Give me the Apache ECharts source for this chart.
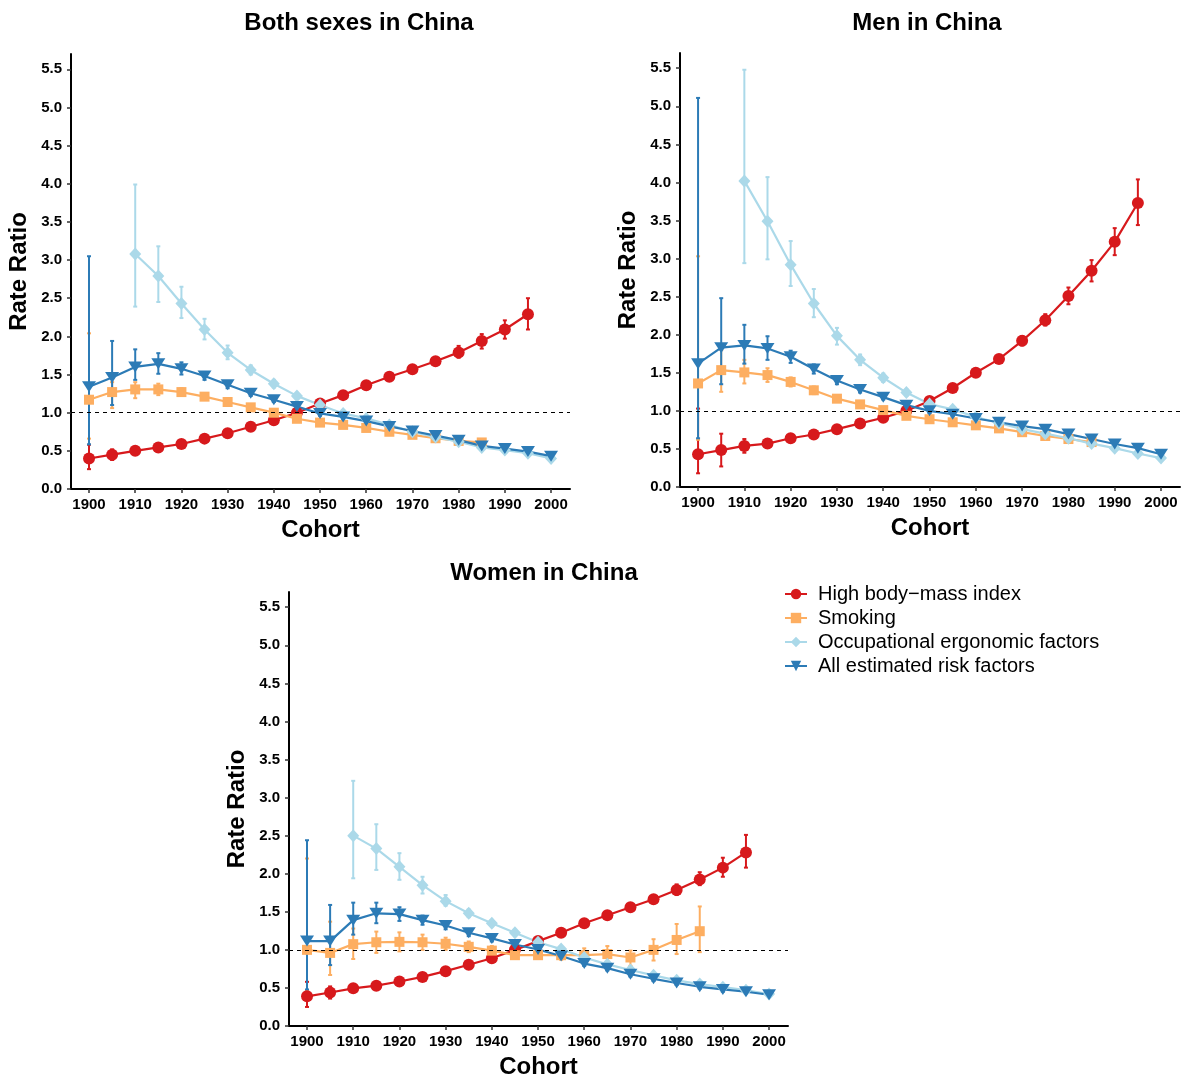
<!DOCTYPE html>
<html>
<head>
<meta charset="utf-8">
<script src="https://cdn.jsdelivr.net/npm/echarts@6/dist/echarts.min.js"></script>
<style>html,body{margin:0;padding:0;background:#fff}#c{width:1184px;height:1078px}</style>
</head>
<body>
<div id="c"></div>
<script>
// ---------- DATA ----------
const cohorts = [1900,1905,1910,1915,1920,1925,1930,1935,1940,1945,1950,1955,1960,1965,1970,1975,1980,1985,1990,1995,2000];
const yTicks = [0,0.5,1,1.5,2,2.5,3,3.5,4,4.5,5,5.5];
const xTicks = [1900,1910,1920,1930,1940,1950,1960,1970,1980,1990,2000];
const panelTitles = ['Both sexes in China','Men in China','Women in China'];
const factorNames = ['High body\u2212mass index','Smoking','Occupational ergonomic factors','All estimated risk factors'];

// Both sexes
const bothBmi    = [0.40,0.45,0.50,0.545,0.59,0.66,0.73,0.815,0.90,1.00,1.12,1.23,1.36,1.47,1.57,1.675,1.79,1.94,2.09,2.29,null];
const bothBmiLo  = [0.26,0.38,0.46,0.51,0.56,0.63,0.70,0.79,0.87,0.97,1.08,1.19,1.32,1.43,1.53,1.63,1.72,1.84,1.97,2.09,null];
const bothBmiHi  = [0.58,0.52,0.54,0.58,0.62,0.69,0.76,0.84,0.93,1.03,1.16,1.27,1.40,1.51,1.61,1.72,1.875,2.03,2.21,2.50,null];
const bothSmk    = [1.17,1.27,1.305,1.305,1.27,1.21,1.14,1.07,1.00,0.92,0.87,0.84,0.80,0.75,0.71,0.665,0.63,0.61,null,null,null];
const bothSmkLo  = [0.66,1.06,1.19,1.23,1.22,1.17,1.11,1.04,0.97,0.89,0.84,0.81,0.77,0.72,0.68,0.63,0.60,0.57,null,null,null];
const bothSmkHi  = [2.04,1.40,1.40,1.38,1.32,1.25,1.17,1.10,1.03,0.95,0.90,0.87,0.83,0.78,0.74,0.70,0.66,0.65,null,null,null];
const bothOcc    = [null,null,3.08,2.79,2.43,2.09,1.785,1.56,1.38,1.22,1.10,0.99,0.925,0.84,0.75,0.68,0.62,0.545,0.51,0.47,0.40];
const bothOccLo  = [null,null,2.39,2.45,2.24,1.96,1.70,1.50,1.33,1.18,1.06,0.95,0.89,0.81,0.72,0.65,0.59,0.51,0.48,0.44,0.37];
const bothOccHi  = [null,null,3.99,3.18,2.65,2.23,1.88,1.62,1.43,1.26,1.14,1.03,0.96,0.87,0.78,0.71,0.65,0.58,0.54,0.50,0.43];
const bothAll    = [1.34,1.46,1.60,1.64,1.575,1.48,1.365,1.255,1.17,1.08,0.99,0.945,0.89,0.82,0.76,0.70,0.64,0.565,0.53,0.49,0.43];
const bothAllLo  = [0.585,1.10,1.43,1.51,1.50,1.43,1.32,1.22,1.14,1.05,0.96,0.92,0.86,0.79,0.73,0.67,0.61,0.54,0.50,0.46,0.40];
const bothAllHi  = [3.05,1.94,1.83,1.78,1.66,1.53,1.41,1.29,1.20,1.11,1.02,0.97,0.92,0.85,0.79,0.73,0.67,0.59,0.56,0.52,0.46];

// Men
const menBmi     = [0.43,0.485,0.54,0.57,0.64,0.69,0.76,0.835,0.91,1.00,1.13,1.30,1.50,1.68,1.92,2.19,2.51,2.84,3.22,3.73,null];
const menBmiLo   = [0.18,0.27,0.45,0.52,0.60,0.66,0.73,0.80,0.88,0.97,1.10,1.26,1.46,1.64,1.86,2.12,2.40,2.70,3.045,3.44,null];
const menBmiHi   = [1.03,0.70,0.63,0.62,0.68,0.73,0.80,0.87,0.94,1.03,1.17,1.34,1.54,1.72,1.98,2.27,2.62,2.98,3.40,4.04,null];
const menSmk     = [1.36,1.535,1.505,1.47,1.38,1.27,1.16,1.085,1.01,0.935,0.89,0.85,0.81,0.77,0.72,0.67,0.63,0.59,null,null,null];
const menSmkLo   = [0.62,1.25,1.36,1.38,1.32,1.22,1.12,1.05,0.98,0.90,0.86,0.82,0.78,0.74,0.69,0.64,0.60,0.56,null,null,null];
const menSmkHi   = [3.03,1.80,1.67,1.56,1.44,1.32,1.20,1.12,1.04,0.97,0.92,0.88,0.84,0.80,0.75,0.70,0.66,0.62,null,null,null];
const menOcc     = [null,null,4.02,3.49,2.92,2.41,1.985,1.67,1.435,1.24,1.09,1.02,0.92,0.84,0.76,0.70,0.64,0.57,0.51,0.44,0.38];
const menOccLo   = [null,null,2.94,2.99,2.64,2.23,1.87,1.60,1.38,1.20,1.05,0.98,0.89,0.81,0.73,0.67,0.61,0.54,0.48,0.41,0.35];
const menOccHi   = [null,null,5.48,4.07,3.23,2.60,2.09,1.74,1.49,1.28,1.13,1.06,0.95,0.87,0.79,0.73,0.67,0.60,0.54,0.47,0.41];
const menAll     = [1.62,1.83,1.86,1.82,1.71,1.55,1.40,1.28,1.18,1.075,1.00,0.955,0.90,0.85,0.80,0.76,0.695,0.63,0.565,0.51,0.43];
const menAllLo   = [0.64,1.35,1.62,1.67,1.63,1.49,1.35,1.24,1.15,1.04,0.97,0.93,0.87,0.82,0.77,0.73,0.67,0.60,0.54,0.48,0.40];
const menAllHi   = [5.11,2.48,2.13,1.98,1.79,1.61,1.45,1.32,1.21,1.11,1.03,0.98,0.93,0.88,0.83,0.79,0.72,0.66,0.59,0.54,0.46];

// Women
const womBmi     = [0.39,0.44,0.495,0.53,0.585,0.645,0.72,0.805,0.89,1.00,1.115,1.225,1.35,1.455,1.56,1.665,1.785,1.925,2.08,2.28,null];
const womBmiLo   = [0.25,0.36,0.46,0.50,0.56,0.62,0.69,0.78,0.86,0.97,1.08,1.19,1.31,1.42,1.52,1.62,1.72,1.85,1.96,2.08,null];
const womBmiHi   = [0.58,0.52,0.53,0.56,0.61,0.67,0.75,0.83,0.92,1.03,1.15,1.26,1.39,1.49,1.60,1.71,1.86,2.02,2.21,2.51,null];
const womSmk     = [1.00,0.96,1.075,1.10,1.105,1.10,1.08,1.04,0.99,0.93,0.93,0.93,0.93,0.945,0.90,1.00,1.13,1.245,null,null,null];
const womSmkLo   = [0.47,0.67,0.88,0.96,0.98,1.00,1.00,0.97,0.93,0.88,0.88,0.87,0.86,0.845,0.79,0.86,0.945,0.97,null,null,null];
const womSmkHi   = [2.20,1.37,1.28,1.24,1.23,1.20,1.16,1.11,1.05,0.98,0.98,0.99,1.02,1.05,0.99,1.14,1.34,1.57,null,null,null];
const womOcc     = [null,null,2.50,2.33,2.09,1.85,1.64,1.48,1.35,1.225,1.10,1.01,0.90,0.81,0.735,0.665,0.60,0.55,0.51,0.47,0.42];
const womOccLo   = [null,null,1.94,2.05,1.92,1.74,1.58,1.43,1.31,1.19,1.07,0.98,0.87,0.78,0.71,0.64,0.57,0.52,0.48,0.44,0.39];
const womOccHi   = [null,null,3.22,2.65,2.27,1.96,1.72,1.53,1.39,1.26,1.13,1.04,0.93,0.84,0.76,0.69,0.63,0.58,0.54,0.50,0.45];
const womAll     = [1.115,1.115,1.39,1.48,1.47,1.39,1.32,1.225,1.15,1.07,1.005,0.92,0.82,0.76,0.68,0.62,0.565,0.515,0.48,0.45,0.41];
const womAllLo   = [0.48,0.80,1.20,1.35,1.38,1.33,1.27,1.18,1.11,1.04,0.97,0.89,0.79,0.73,0.65,0.59,0.54,0.49,0.45,0.42,0.38];
const womAllHi   = [2.44,1.59,1.62,1.62,1.56,1.45,1.37,1.27,1.19,1.10,1.04,0.95,0.85,0.79,0.71,0.65,0.59,0.54,0.51,0.48,0.44];

// ---------- STYLE / LAYOUT ----------
const FONT = "'Liberation Sans', Arial, Helvetica, sans-serif";
const colors = ['#d7191c','#fdae61','#abd9e9','#2c7bb6'];
const symbols = ['circle','rect','diamond','triangle'];
const symSizes = [12, 10, [12,13], [14,11]];
const symRot = [0,0,0,180];

const panels = [
  {grid:{left:71, top:54, width:499, height:435}, title:[359,23],
   data:[[bothBmi,bothBmiLo,bothBmiHi],[bothSmk,bothSmkLo,bothSmkHi],[bothOcc,bothOccLo,bothOccHi],[bothAll,bothAllLo,bothAllHi]]},
  {grid:{left:680, top:53, width:500, height:434}, title:[927,23],
   data:[[menBmi,menBmiLo,menBmiHi],[menSmk,menSmkLo,menSmkHi],[menOcc,menOccLo,menOccHi],[menAll,menAllLo,menAllHi]]},
  {grid:{left:289, top:592, width:499, height:434}, title:[544,573],
   data:[[womBmi,womBmiLo,womBmiHi],[womSmk,womSmkLo,womSmkHi],[womOcc,womOccLo,womOccHi],[womAll,womAllLo,womAllHi]]}
];

const grids = [], xAxes = [], yAxes = [], series = [], graphics = [];

panels.forEach((p, pi) => {
  grids.push(Object.assign({containLabel:false, outerBoundsMode:'none'}, p.grid));
  xAxes.push({
    type:'value', gridIndex:pi, min:1896.1, max:2004.1,
    name:'Cohort', nameLocation:'middle', nameGap:29,
    nameTextStyle:{fontFamily:FONT, fontSize:24, fontWeight:'bold', color:'#000'},
    axisLine:{show:true, onZero:false, lineStyle:{color:'#000', width:2}},
    axisTick:{show:true, length:4, customValues:xTicks, lineStyle:{color:'#333', width:1.5}},
    axisLabel:{show:true, customValues:xTicks, margin:8, fontFamily:FONT, fontSize:15, fontWeight:'bold', color:'#000',
               formatter: v => String(Math.round(v))},
    splitLine:{show:false}
  });
  yAxes.push({
    type:'value', gridIndex:pi, min:0, max:5.7,
    name:'Rate Ratio', nameLocation:'middle', nameGap:40, nameRotate:90,
    nameTextStyle:{fontFamily:FONT, fontSize:24, fontWeight:'bold', color:'#000'},
    axisLine:{show:true, onZero:false, lineStyle:{color:'#000', width:2}},
    axisTick:{show:true, length:4, customValues:yTicks, lineStyle:{color:'#333', width:1.5}},
    axisLabel:{show:true, customValues:yTicks, margin:9, fontFamily:FONT, fontSize:15, fontWeight:'bold', color:'#000',
               formatter: v => v.toFixed(1)},
    splitLine:{show:false}
  });
  graphics.push({type:'text', x:p.title[0], y:p.title[1],
    style:{text:panelTitles[pi], fill:'#000', font:"bold 24px " + FONT, textAlign:'center', textVerticalAlign:'middle'}});

  p.data.forEach((arrs, fi) => {
    const [vals, lo, hi] = arrs;
    const errData = [], lineData = [];
    cohorts.forEach((c, i) => {
      if (vals[i] != null) {
        lineData.push([c, vals[i]]);
        errData.push([c, lo[i], hi[i]]);
      }
    });
    const col = colors[fi];
    const errSeries = {
      type:'custom', name:'err'+pi+'_'+fi, xAxisIndex:pi, yAxisIndex:pi,
      data:errData, encode:{x:0, y:[1,2]}, silent:true, clip:true,
      renderItem:(params, api) => {
        const x = api.value(0);
        const a = api.coord([x, api.value(1)]);
        const b = api.coord([x, api.value(2)]);
        const w = 2;
        const st = {stroke:col, lineWidth:2};
        return {type:'group', children:[
          {type:'line', shape:{x1:a[0], y1:a[1], x2:b[0], y2:b[1]}, style:st},
          {type:'line', shape:{x1:a[0]-w, y1:a[1], x2:a[0]+w, y2:a[1]}, style:st},
          {type:'line', shape:{x1:b[0]-w, y1:b[1], x2:b[0]+w, y2:b[1]}, style:st}
        ]};
      }
    };
    if (fi === 0) {
      errSeries.markLine = {
        silent:true, symbol:['none','none'], label:{show:false},
        lineStyle:{type:[4,4], color:'#000', width:1},
        data:[{yAxis:1}], animation:false
      };
    }
    series.push(errSeries);
    series.push({
      type:'line', name:factorNames[fi], xAxisIndex:pi, yAxisIndex:pi,
      data:lineData, showSymbol:true, symbol:symbols[fi], symbolSize:symSizes[fi], symbolRotate:symRot[fi],
      lineStyle:{color:col, width:2.2}, itemStyle:{color:col}, emphasis:{disabled:true}, silent:true
    });
  });
});

const chart = echarts.init(document.getElementById('c'), null, {renderer:'canvas'});
chart.setOption({
  backgroundColor:'#fff',
  animation:false,
  grid:grids, xAxis:xAxes, yAxis:yAxes, series:series,
  graphic:graphics,
  legend:{
    data:factorNames, orient:'vertical', left:784, top:584, padding:0,
    itemWidth:22, itemHeight:13, itemGap:4, selectedMode:false,
    textStyle:{fontFamily:FONT, fontSize:20, color:'#000', lineHeight:20, padding:[0,0,0,6]}
  }
});
</script>
</body>
</html>
